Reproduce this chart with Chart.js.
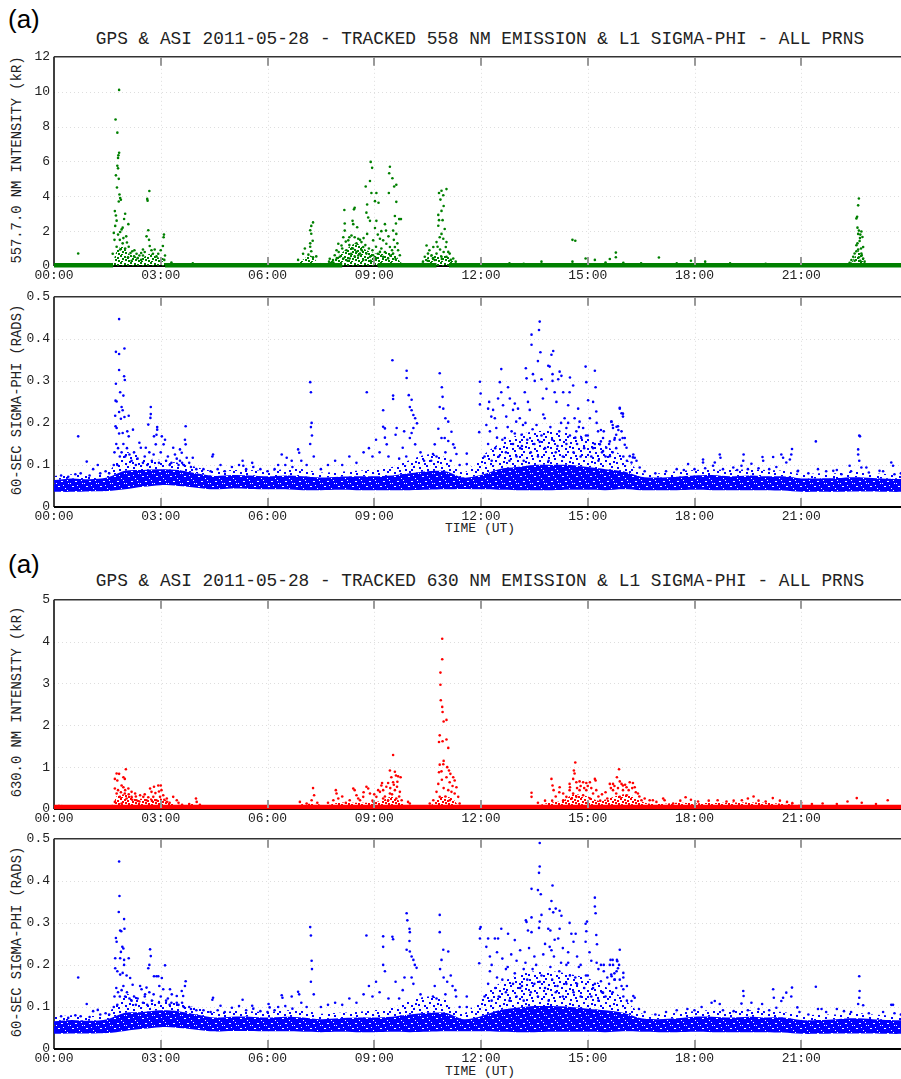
<!DOCTYPE html>
<html><head><meta charset="utf-8">
<script src="https://cdn.jsdelivr.net/npm/chart.js@4"></script>
<style>
html,body{margin:0;padding:0;width:901px;height:1079px;overflow:hidden;background:#fff;}
.box{position:absolute;left:0;width:912px;}
.mono{position:absolute;font-family:"Liberation Mono",monospace;color:#222;white-space:nowrap;}
.ttl{left:54px;width:852px;text-align:center;font-size:17.8px;line-height:20px;}
.ylab{left:18px;font-size:13.8px;line-height:16px;transform:translate(-50%,-50%) rotate(-90deg);}
.xlab{left:54px;width:852px;text-align:center;font-size:13px;line-height:16px;}
.tag{position:absolute;left:8px;font-family:"Liberation Sans",Arial,sans-serif;font-size:26px;line-height:30px;color:#000;}
</style></head><body>
<div class="tag" style="top:4px">(a)</div>
<div class="mono ttl" style="top:29px">GPS &amp; ASI 2011-05-28 - TRACKED 558 NM EMISSION &amp; L1 SIGMA-PHI - ALL PRNS</div>
<div class="mono ylab" style="top:160px">557.7.0 NM INTENSITY (kR)</div>
<div class="mono ylab" style="top:400px">60-SEC SIGMA-PHI (RADS)</div>
<div class="mono xlab" style="top:521px">TIME (UT)</div>
<div class="tag" style="top:549px">(a)</div>
<div class="mono ttl" style="top:571px">GPS &amp; ASI 2011-05-28 - TRACKED 630 NM EMISSION &amp; L1 SIGMA-PHI - ALL PRNS</div>
<div class="mono ylab" style="top:702px">630.0 NM INTENSITY (kR)</div>
<div class="mono ylab" style="top:942px">60-SEC SIGMA-PHI (RADS)</div>
<div class="mono xlab" style="top:1064px">TIME (UT)</div>
<div class="box" style="top:45px;height:245px"><canvas id="c1" width="912" height="245"></canvas></div>
<div class="box" style="top:285px;height:246px"><canvas id="c2" width="912" height="246"></canvas></div>
<div class="box" style="top:588px;height:245px"><canvas id="c3" width="912" height="245"></canvas></div>
<div class="box" style="top:827px;height:246px"><canvas id="c4" width="912" height="246"></canvas></div>
<script>
const hourLabels = ['00:00','03:00','06:00','09:00','12:00','15:00','18:00','21:00'];
const envHours = [0,0.5,1,1.5,2,2.5,3,3.5,4,4.5,5,5.5,6,6.5,7,7.5,8,8.5,9,9.5,10,10.5,11,11.5,12,12.5,13,13.5,14,14.5,15,15.5,16,16.5,17,17.5,18,18.5,19,19.5,20,20.5,21,21.5,22,22.5,23,23.5,24];

// ---------- Panel 1: 557.7 nm intensity (kR)
const green558Base = [[0,0.05],[1.66,0.05],[1.67,null],[3.12,0.05],[8.1,0.05],[8.11,null],[9.1,0.05],[10.75,0.05],[10.76,null],[11.1,0.05],[24,0.05]];
const green558Dense = [[0,0.1],[1.62,0.1],[1.7,0.5],[1.8,1.0],[1.95,1.1],[2.1,0.7],[2.3,0.55],[2.5,0.5],[2.7,0.7],[2.9,0.5],[3.05,0.5],[3.15,0.15],[3.3,0.12],[6.8,0.12],[6.95,0.3],[7.2,0.6],[7.4,0.25],[7.6,0.15],[7.8,0.3],[8.0,0.6],[8.3,1.1],[8.5,1.3],[8.7,1.0],[8.9,0.8],[9.1,0.7],[9.4,0.8],[9.6,0.6],[9.75,0.2],[9.9,0.12],[10.3,0.15],[10.5,0.5],[10.8,0.6],[11.0,0.6],[11.25,0.3],[11.4,0.12],[22.35,0.12],[22.5,0.5],[22.65,0.9],[22.8,0.3],[22.9,0.12],[24,0.12]];
const green558 = [
[0.68,0.72],[1.73,8.4],[1.78,7.65],[1.83,10.1],
[1.83,6.5],[1.81,6.35],[1.80,6.2],[1.78,5.75],[1.80,5.6],[1.74,5.2],[1.82,5.0],[1.77,4.5],[1.84,4.1],[1.88,3.8],[1.82,3.7],[1.86,3.9],
[1.71,3.15],[1.74,2.9],[1.76,2.6],[2.0,3.0],[1.97,2.7],[2.09,2.4],[1.90,2.1],[1.86,1.95],[1.93,2.2],[2.03,1.7],[1.70,1.5],[1.65,0.7],[1.76,1.1],[1.86,0.95],[1.93,1.3],[2.0,1.0],[2.2,0.85],[2.26,0.9],[2.32,0.7],[2.4,0.6],[2.08,0.5],[2.18,0.3],
[1.68,1.9],[1.72,2.3],[1.8,1.8],[1.85,1.5],[1.95,1.6],[2.05,1.35],[2.1,1.1],[2.15,0.75],[2.25,0.55],[2.35,0.45],[2.45,0.35],[2.5,0.6],[2.55,0.8],
[2.68,4.3],[2.62,3.85],[2.63,3.75],[2.65,2.05],[2.6,1.7],[2.67,1.5],[2.69,1.15],[2.74,0.9],[2.78,0.7],[2.45,0.75],[2.5,0.95],[2.83,0.95],[2.88,0.55],[2.93,0.7],[3.0,0.9],[3.09,1.8],[3.08,1.65],[3.06,1.15],[3.12,0.6],[3.1,0.35],[3.3,0.2],[3.9,0.15],
[7.28,2.5],[7.23,2.3],[7.2,2.05],[7.23,1.85],[7.27,1.45],[7.2,1.3],[7.2,1.1],[7.23,0.85],[7.15,0.65],[7.28,0.5],[7.05,1.0],[7.0,0.7],[7.37,0.55],[6.86,0.35],[7.75,0.42],[7.73,0.25],
[8.9,5.97],[8.94,5.63],[9.44,5.69],[9.42,5.32],[9.51,5.03],[9.56,4.56],[9.62,4.66],[8.76,4.56],[8.88,4.88],[8.92,4.19],[9.06,4.19],[9.41,4.19],[9.02,3.72],[9.12,3.63],[8.8,3.53],[9.62,3.68],[8.16,3.21],[8.45,3.34],[8.43,3.25],[8.78,3.06],[8.83,2.78],[8.88,2.59],[9.06,2.59],[9.58,2.87],[9.7,2.69],[9.75,2.69],[9.61,2.44],[8.17,2.44],[8.39,2.59],[8.41,2.4],[8.52,2.22],[9.02,2.18],[9.33,2.03],[9.53,2.03],[9.62,1.84],[8.17,2.03],[8.13,1.65],[8.8,1.84],[8.97,1.47],[9.16,1.56],[9.25,1.47],[9.34,1.28],[9.44,1.09],[9.58,1.09],[9.67,0.9],[9.72,0.62],
[8.36,1.75],[8.45,1.65],[8.55,1.56],[8.27,1.47],[8.64,1.37],[8.69,1.09],[7.99,1.28],[7.94,0.9],[8.08,1.18],[8.22,0.9],[8.5,0.81],[8.6,0.71],[8.78,0.71],[8.88,0.53],[8.03,0.53],[8.13,0.43],[8.31,0.43],[8.69,0.34],[8.97,0.62],[9.16,0.81],[9.25,0.53],[9.39,0.43],[9.53,0.71],[7.89,0.62],[7.84,0.34],
[8.3,1.2],[8.4,1.0],[8.5,1.3],[8.6,1.5],[8.7,1.6],[8.3,1.65],[8.2,1.4],[8.1,1.0],[8.0,0.8],[8.35,0.7],[8.45,0.55],[8.55,0.6],[8.65,0.9],[8.75,1.2],[8.85,1.0],[8.95,0.9],[9.05,1.1],[9.1,0.7],[9.2,1.0],[9.3,0.8],[9.45,0.6],[9.5,0.9],[9.6,0.4],[9.05,0.45],[8.9,0.3],[8.25,0.3],[7.95,0.45],[7.85,0.2],[9.65,1.3],[9.55,1.5],[9.4,1.7],[9.3,2.4],[9.2,2.0],[9.1,1.8],
[11.03,4.41],[10.89,4.32],[10.82,4.19],[10.94,4.06],[10.86,3.81],[10.95,3.44],[10.89,3.16],[10.8,2.93],[10.82,2.63],[10.92,2.63],[10.8,2.31],[10.98,2.12],[10.89,1.84],[10.84,1.65],[10.94,1.56],[11.03,1.37],[10.75,1.37],[11.01,1.09],[11.08,0.81],[10.66,1.09],[10.47,1.18],[10.51,0.71],[10.42,0.53],[10.61,0.62],[10.75,0.71],[10.89,0.53],[11.03,0.53],[11.22,0.43],[11.29,0.25],[10.37,0.25],[10.7,0.34],[11.12,0.71],[10.55,0.9],[10.65,0.45],[10.85,0.95],[10.95,0.8],[11.15,0.35],[10.5,0.3],[10.78,1.1],[10.9,0.4],
[13.7,0.25],[14.57,1.5],[14.65,1.45],[14.57,0.25],[14.94,0.43],[15.2,0.35],[15.79,0.77],[15.79,0.5],[15.62,0.4],[17.0,0.49],[17.9,0.3],[18.3,0.25],
[12.8,0.15],[13.2,0.12],[15.5,0.2],[16.0,0.18],[16.5,0.15],[17.5,0.15],[19.0,0.15],[20.0,0.12],
[22.62,3.87],[22.6,3.48],[22.57,2.82],[22.55,2.73],[22.62,2.03],[22.69,1.98],[22.6,1.84],[22.72,1.66],[22.64,1.43],[22.55,1.19],[22.74,1.09],[22.6,0.94],[22.5,0.72],[22.69,0.72],[22.46,0.53],[22.74,0.43],[22.41,0.34],[22.78,0.25],[22.36,0.19],
[22.65,1.6],[22.58,1.3],[22.68,1.0],[22.55,0.85],[22.7,0.6],[22.62,0.5],[22.5,0.3],[22.66,0.3],[22.58,2.2],[22.66,1.8]
];

// ---------- Panel 2: sigma-phi (558 set)
const sig2Low  = [.036,.036,.037,.038,.042,.048,.052,.050,.046,.042, .044,.043,.042,.042,.040,.040,.041,.040,.040,.040, .040,.041,.042,.043,.042,.041,.040,.040,.040,.041, .041,.040,.042,.040,.040,.040,.041,.040,.040,.040, .040,.039,.036,.036,.036,.037,.037,.036,.036];
const sig2Core = [.064,.068,.066,.070,.086,.088,.090,.088,.080,.074, .076,.075,.073,.075,.073,.070,.072,.073,.073,.075, .080,.085,.085,.070,.076,.090,.095,.100,.100,.100, .095,.090,.085,.072,.070,.072,.075,.076,.073,.075, .073,.073,.068,.068,.069,.071,.069,.067,.066];
const sig2Halo = [.074,.078,.076,.082,.130,.118,.112,.105,.095,.085, .088,.088,.086,.090,.090,.082,.084,.086,.090,.095, .112,.125,.118,.082,.120,.150,.170,.180,.180,.175, .165,.145,.120,.082,.080,.085,.088,.090,.088,.090, .088,.086,.078,.080,.080,.085,.080,.078,.076];
const sig2 = [
[1.83,0.447],[1.74,0.369],[1.83,0.364],[1.98,0.377],[1.83,0.326],[1.97,0.311],[1.99,0.302],[1.74,0.293],[1.86,0.273],[1.95,0.265],[1.73,0.253],[1.76,0.251],[1.9,0.238],[1.93,0.23],[1.83,0.226],[1.72,0.217],[1.88,0.21],[1.98,0.214],[2.1,0.217],[1.73,0.192],[1.76,0.188],[1.83,0.175],[1.93,0.176],[2.06,0.18],[2.1,0.168],[2.22,0.184],[0.68,0.168],[0.92,0.108],[1.23,0.1],
[2.65,0.196],[2.72,0.238],[2.72,0.221],[2.71,0.212],[2.9,0.19],[2.9,0.184],[2.88,0.172],[2.81,0.168],[3.03,0.168],[3.12,0.16],[2.86,0.149],[3.08,0.149],[2.4,0.153],[2.44,0.141],[2.58,0.141],[3.35,0.141],[3.54,0.137],[3.4,0.125],[3.7,0.192],[3.68,0.16],[3.7,0.149],[3.59,0.129],[3.9,0.117],[3.73,0.117],[3.54,0.11],[4.47,0.125],[4.45,0.12],[4.68,0.1],[5.57,0.105],[5.3,0.11],[5.32,0.098],[6.4,0.125],[6.54,0.117],[6.68,0.11],[6.86,0.137],[6.89,0.129],
[1.8,0.14],[1.85,0.12],[1.9,0.13],[1.95,0.15],[2.0,0.12],[2.05,0.14],[2.12,0.125],[2.18,0.11],[2.25,0.13],[2.3,0.1],[2.35,0.115],[2.5,0.105],[2.55,0.12],[2.62,0.1],[2.68,0.13],[2.75,0.11],[2.8,0.125],[2.95,0.105],[3.0,0.13],[3.15,0.11],[3.2,0.12],[3.25,0.1],[3.3,0.105],[3.45,0.115],[3.5,0.1],[3.6,0.105],[3.65,0.1],[3.8,0.105],[3.85,0.095],[4.0,0.09],[1.7,0.13],[1.75,0.15],[1.78,0.1],[1.68,0.1],
[0.2,0.075],[0.4,0.072],[0.6,0.078],[0.75,0.08],[1.0,0.075],[1.1,0.09],[1.3,0.08],[1.45,0.085],[1.55,0.08],
[4.2,0.09],[4.4,0.085],[4.6,0.09],[4.8,0.085],[5.0,0.095],[5.2,0.1],[5.4,0.09],[5.6,0.095],[5.8,0.09],[6.0,0.085],[6.2,0.09],[6.3,0.1],[6.5,0.1],[6.7,0.095],[6.95,0.11],
[7.2,0.297],[7.22,0.273],[7.24,0.2],[7.22,0.19],[7.25,0.17],[7.2,0.15],[7.3,0.12],[7.1,0.1],[7.5,0.09],[7.7,0.1],[7.9,0.11],[8.1,0.1],[8.3,0.12],[8.5,0.105],[8.7,0.13],[8.79,0.273],[8.85,0.14],[8.95,0.12],[9.05,0.16],[9.15,0.13],
[9.51,0.349],[9.53,0.265],[9.53,0.257],[9.25,0.23],[9.25,0.191],[9.3,0.187],[9.3,0.165],[9.35,0.149],[9.63,0.188],[9.6,0.172],[9.91,0.324],[9.91,0.307],[9.97,0.266],[10.05,0.255],[10.0,0.238],[10.05,0.23],[10.1,0.219],[10.15,0.211],[10.2,0.199],[10.1,0.188],[10.05,0.176],[10.0,0.164],[10.15,0.149],[9.84,0.18],[9.8,0.141],[9.4,0.12],[9.7,0.115],[9.9,0.12],[10.3,0.13],[10.4,0.11],
[10.84,0.318],[10.9,0.285],[10.92,0.262],[10.84,0.238],[10.94,0.234],[11.0,0.211],[11.08,0.203],[10.8,0.186],[10.89,0.164],[10.98,0.164],[11.08,0.157],[11.17,0.179],[11.22,0.149],[11.26,0.141],[11.31,0.126],[10.7,0.149],[10.65,0.126],[10.6,0.11],[10.75,0.12],[11.0,0.13],[11.15,0.11],[11.4,0.1],
[11.6,0.127],[11.6,0.102],[11.97,0.298],[11.99,0.27],[11.97,0.244],[11.95,0.178],
[12.15,0.195],[12.2,0.234],[12.23,0.25],[12.29,0.215],[12.34,0.231],[12.39,0.211],[12.43,0.188],[12.48,0.258],[12.53,0.297],[12.57,0.328],[12.57,0.273],[12.62,0.242],[12.67,0.164],[12.71,0.215],[12.76,0.285],[12.81,0.258],[12.86,0.18],[12.9,0.231],[12.95,0.246],[12.99,0.203],[13.04,0.234],[13.09,0.211],[13.14,0.172],[13.18,0.195],[13.23,0.273],[13.26,0.33],[13.28,0.306],[13.32,0.25],[13.37,0.231],[13.42,0.41],[13.42,0.386],[13.46,0.316],[13.51,0.3],[13.56,0.195],[13.6,0.347],[13.63,0.421],[13.65,0.441],[13.67,0.368],[13.7,0.304],[13.74,0.258],[13.79,0.211],[13.84,0.281],[13.89,0.336],[13.93,0.334],[13.98,0.362],[14.03,0.371],[14.01,0.316],[14.01,0.3],[14.07,0.273],[14.12,0.25],[14.17,0.304],[14.21,0.322],[14.26,0.312],[14.31,0.273],[14.35,0.211],[14.4,0.188],[14.45,0.242],[14.49,0.273],[14.5,0.308],[14.59,0.289],[14.63,0.211],[14.68,0.18],[14.73,0.234],[14.77,0.203],[14.82,0.164],[14.87,0.188],[14.94,0.334],[14.96,0.297],[15.01,0.254],[15.06,0.211],[15.15,0.25],[15.2,0.324],[15.22,0.285],[15.24,0.227],[15.29,0.18],[15.34,0.149],[15.43,0.164],[15.52,0.141],[15.62,0.121],[15.66,0.203],[15.71,0.188],[15.8,0.172],[15.85,0.192],[15.9,0.234],[15.95,0.223],[16.04,0.164],[16.09,0.141],[16.18,0.121],[16.27,0.118],[16.37,0.11],[16.46,0.094],
[12.1,0.12],[12.2,0.15],[12.3,0.11],[12.4,0.14],[12.5,0.12],[12.6,0.16],[12.7,0.13],[12.8,0.11],[12.9,0.15],[13.0,0.12],[13.1,0.14],[13.2,0.11],[13.3,0.16],[13.4,0.13],[13.5,0.15],[13.6,0.12],[13.7,0.17],[13.8,0.14],[13.9,0.11],[14.0,0.16],[14.1,0.13],[14.2,0.18],[14.3,0.12],[14.4,0.15],[14.5,0.17],[14.6,0.13],[14.7,0.15],[14.8,0.12],[14.9,0.14],[15.0,0.17],[15.1,0.12],[15.2,0.15],[15.3,0.11],[15.4,0.13],[15.5,0.12],[15.6,0.15],[15.7,0.13],[15.8,0.14],[15.9,0.16],[16.0,0.12],[16.1,0.11],[12.25,0.18],[12.75,0.19],[13.25,0.2],[13.75,0.22],[14.25,0.2],[14.75,0.19],[15.25,0.2],[15.75,0.16],[12.45,0.165],[12.95,0.175],[13.45,0.185],[13.95,0.19],[14.45,0.2],[14.95,0.17],[15.45,0.18],[13.15,0.145],[13.65,0.155],[14.15,0.145],[14.65,0.165],[15.15,0.14],
[15.9,0.236],[15.99,0.222],[15.99,0.215],[15.67,0.203],[15.7,0.195],[15.81,0.191],[15.86,0.183],[15.95,0.18],[15.76,0.164],[15.62,0.156],[15.98,0.164],[16.04,0.148],[16.28,0.125],[16.32,0.117],[16.23,0.106],[15.37,0.183],[15.37,0.156],[15.43,0.133],
[17.82,0.102],[18.24,0.113],[18.24,0.106],[18.57,0.106],[18.71,0.125],[18.73,0.117],[18.52,0.098],[19.09,0.094],[19.38,0.125],[19.37,0.11],[19.32,0.098],[19.6,0.103],[19.91,0.119],[19.93,0.11],[20.21,0.119],[20.44,0.125],[20.49,0.117],[20.58,0.106],[20.74,0.138],[20.72,0.125],[20.68,0.113],[20.91,0.086],[21.41,0.156],[21.47,0.09],[21.9,0.086],[22.13,0.078],[22.36,0.098],[22.63,0.17],[22.65,0.168],[22.6,0.137],[22.6,0.125],[22.63,0.11],[22.69,0.094],[22.83,0.094],[23.2,0.086],[23.53,0.106],[23.58,0.098],[23.62,0.078],
[16.6,0.085],[16.9,0.08],[17.2,0.085],[17.5,0.09],[17.7,0.088],[18.0,0.09],[18.3,0.092],[18.8,0.09],[19.2,0.088],[19.5,0.09],[19.8,0.092],[20.1,0.09],[20.3,0.095],[20.9,0.085],[21.2,0.08],[21.7,0.085],[22.0,0.088],[22.4,0.085],[22.9,0.082],[23.3,0.085],[23.8,0.08]
];

// ---------- Panel 3: 630.0 nm intensity (kR)
const red630Base = [[0,0.05],[24,0.05]];
const red630Dense = [[0,0.1],[1.65,0.1],[1.75,0.3],[2.0,0.35],[2.3,0.25],[2.6,0.25],[3.0,0.25],[3.3,0.15],[3.5,0.1],[3.9,0.12],[4.1,0.08],[6.8,0.08],[7.0,0.12],[7.4,0.12],[7.6,0.08],[8.0,0.15],[8.4,0.15],[8.8,0.15],[9.2,0.2],[9.5,0.3],[9.7,0.2],[9.9,0.08],[10.6,0.1],[10.9,0.3],[11.2,0.25],[11.4,0.08],[13.5,0.08],[13.9,0.15],[14.3,0.2],[14.6,0.35],[15.0,0.3],[15.3,0.2],[15.6,0.25],[16.0,0.35],[16.3,0.3],[16.6,0.15],[17.0,0.12],[17.5,0.15],[18,0.14],[19,0.15],[20,0.15],[21,0.1],[22,0.09],[24,0.09]];
const red630 = [
[2.02,0.95],[1.95,0.76],[1.99,0.72],[1.83,0.84],[1.76,0.85],[1.71,0.72],[1.78,0.68],[1.9,0.56],[1.95,0.52],[2.09,0.49],[2.18,0.41],[2.28,0.37],[2.42,0.33],[2.51,0.29],[2.7,0.49],[2.74,0.41],[2.81,0.53],[2.93,0.56],[3.0,0.56],[3.02,0.45],[3.07,0.33],[3.17,0.25],[3.35,0.29],[3.45,0.21],[3.99,0.25],[4.01,0.17],[1.71,0.49],[1.76,0.37],[1.85,0.29],[1.99,0.37],[2.04,0.25],[2.18,0.29],[2.32,0.21],[2.6,0.21],[2.79,0.29],[2.88,0.21],[2.98,0.29],[3.17,0.17],[1.71,0.17],[1.9,0.13],
[1.8,0.45],[1.88,0.4],[2.0,0.45],[2.1,0.35],[2.2,0.22],[2.3,0.3],[2.4,0.18],[2.55,0.35],[2.65,0.28],[2.75,0.2],[2.85,0.38],[2.95,0.42],[3.1,0.22],[3.25,0.15],[3.5,0.15],[3.6,0.1],[3.8,0.12],[4.1,0.1],
[9.53,1.29],[9.44,0.92],[9.58,0.89],[9.61,0.8],[9.48,0.76],[9.67,0.78],[9.74,0.76],[9.39,0.62],[9.53,0.64],[9.64,0.53],[9.34,0.53],[9.58,0.45],[9.72,0.41],[9.44,0.37],[9.25,0.45],[9.16,0.41],[9.11,0.45],[9.06,0.29],[9.25,0.25],[9.39,0.21],[9.62,0.25],[9.77,0.21],[9.2,0.56],[9.22,0.62],[8.78,0.53],[8.83,0.49],[8.88,0.37],[8.69,0.29],[8.6,0.21],[8.41,0.49],[8.45,0.45],[8.5,0.33],[8.31,0.21],[7.92,0.45],[7.94,0.37],[7.99,0.25],[7.85,0.21],[7.28,0.5],[7.31,0.33],[7.24,0.21],[7.1,0.13],[6.91,0.17],[9.95,0.17],[10.0,0.13],
[9.0,0.35],[9.3,0.3],[9.5,0.35],[9.7,0.3],[8.95,0.2],[8.7,0.4],[8.55,0.25],[8.2,0.15],[8.1,0.3],[7.7,0.15],[7.4,0.15],[9.45,0.5],[9.55,0.58],[9.65,0.65],
[10.91,4.07],[10.91,3.58],[10.86,3.26],[10.86,2.97],[10.87,2.6],[10.91,2.44],[10.92,2.32],[10.95,2.09],[11.03,2.13],[10.84,1.76],[10.82,1.6],[10.92,1.62],[11.03,1.66],[11.08,1.46],[10.95,1.15],[10.94,1.07],[10.84,1.06],[10.82,0.88],[10.89,0.9],[11.1,0.92],[11.14,0.84],[11.03,0.76],[11.22,0.76],[11.26,0.68],[11.12,0.64],[11.08,0.45],[11.17,0.41],[11.26,0.37],[10.8,0.6],[10.75,0.41],[11.31,0.52],[11.36,0.29],[10.84,0.29],[11.12,0.21],[10.66,0.21],[10.56,0.13],[11.4,0.13],[10.95,0.5],[11.0,0.3],[11.2,0.55],[10.9,0.7],[11.05,1.0],
[13.42,0.39],[13.42,0.29],[13.98,0.72],[14.01,0.56],[14.04,0.45],[14.21,0.52],[14.31,0.37],[14.49,0.6],[14.61,0.92],[14.63,0.85],[14.65,1.11],[14.59,0.72],[14.68,0.64],[14.77,0.66],[14.87,0.64],[14.96,0.62],[15.06,0.64],[15.2,0.72],[15.22,0.68],[14.49,0.45],[14.59,0.37],[14.68,0.29],[14.77,0.45],[14.87,0.33],[14.96,0.45],[15.06,0.25],[15.15,0.37],[15.24,0.45],[14.4,0.29],[14.31,0.21],[15.62,0.6],[15.71,0.6],[15.88,0.95],[15.82,0.76],[15.9,0.66],[15.99,0.56],[16.09,0.52],[16.18,0.64],[16.27,0.62],[16.32,0.52],[16.41,0.37],[15.71,0.45],[15.8,0.37],[15.9,0.29],[15.99,0.45],[16.09,0.33],[16.51,0.21],[16.74,0.21],[16.83,0.21],[16.93,0.17],[17.12,0.25],[17.16,0.21],[17.4,0.13],
[14.1,0.3],[14.2,0.4],[14.5,0.52],[14.55,0.25],[14.7,0.5],[14.8,0.55],[14.9,0.5],[15.0,0.55],[15.1,0.5],[15.3,0.3],[15.4,0.35],[15.5,0.4],[15.55,0.25],[15.65,0.5],[15.75,0.55],[15.85,0.5],[15.95,0.6],[16.05,0.58],[16.15,0.45],[16.25,0.5],[16.35,0.4],[16.45,0.3],[16.6,0.25],[14.0,0.2],[13.8,0.2],[13.6,0.15],[15.35,0.2],
[17.75,0.28],[17.6,0.2],[17.9,0.22],[18.1,0.18],[18.4,0.2],[18.65,0.21],[18.9,0.18],[19.1,0.2],[19.33,0.21],[19.5,0.25],[19.66,0.3],[19.8,0.2],[20.0,0.18],[20.2,0.26],[20.4,0.2],[20.6,0.17],[20.75,0.14],[21.0,0.15],[21.3,0.12],[21.6,0.13],[22.0,0.12],[22.3,0.18],[22.56,0.26],[22.7,0.15],[23.43,0.21],[23.1,0.12]
];

// ---------- Panel 4: sigma-phi (630 set)
const sig4Low  = [.036,.037,.037,.038,.043,.048,.052,.050,.046,.042, .043,.043,.042,.042,.041,.040,.041,.040,.040,.041, .040,.041,.042,.042,.042,.041,.040,.040,.041,.041, .041,.040,.042,.041,.040,.040,.041,.040,.040,.040, .040,.039,.036,.036,.037,.037,.037,.036,.036];
const sig4Core = [.066,.069,.067,.071,.086,.088,.092,.090,.082,.075, .077,.077,.075,.077,.075,.071,.073,.075,.075,.077, .082,.086,.086,.071,.078,.092,.098,.102,.102,.100, .096,.092,.086,.073,.071,.073,.077,.077,.075,.077, .075,.075,.069,.069,.071,.073,.071,.069,.068];
const sig4Halo = [.076,.080,.078,.085,.130,.118,.114,.108,.098,.088, .090,.090,.088,.092,.092,.084,.086,.088,.092,.098, .114,.125,.118,.085,.122,.155,.175,.185,.185,.178, .168,.148,.120,.085,.082,.086,.090,.092,.090,.092, .090,.088,.080,.082,.082,.086,.082,.080,.078];
const sig4 = [
[1.83,0.446],[1.84,0.364],[1.82,0.326],[1.97,0.309],[1.98,0.286],[1.86,0.282],[1.89,0.28],[1.74,0.264],[1.76,0.255],[1.92,0.243],[1.95,0.239],[1.88,0.231],[1.72,0.216],[1.86,0.216],[1.97,0.212],[2.1,0.216],[1.72,0.192],[1.78,0.185],[1.97,0.2],[1.86,0.177],[1.93,0.181],[2.04,0.175],[2.14,0.169],[2.21,0.153],[0.68,0.17],[0.92,0.107],[1.23,0.093],
[2.7,0.237],[2.72,0.221],[2.68,0.2],[2.65,0.192],[3.12,0.199],[2.81,0.173],[2.88,0.173],[2.93,0.173],[3.03,0.169],[2.96,0.15],[3.07,0.142],[3.26,0.142],[3.31,0.13],[3.45,0.126],[3.7,0.161],[3.68,0.15],[3.59,0.138],[3.63,0.126],[2.42,0.15],[2.46,0.142],[2.56,0.13],[2.6,0.146],[4.47,0.122],[4.45,0.117],[4.68,0.103],[5.3,0.117],[5.57,0.103],[6.03,0.107],[6.06,0.099],[6.4,0.128],[6.42,0.122],[6.68,0.125],[6.86,0.136],[6.89,0.13],
[1.8,0.135],[1.85,0.125],[1.9,0.14],[1.95,0.15],[2.0,0.125],[2.05,0.135],[2.12,0.12],[2.18,0.115],[2.25,0.125],[2.3,0.105],[2.35,0.12],[2.5,0.11],[2.55,0.125],[2.62,0.105],[2.68,0.135],[2.75,0.115],[2.8,0.13],[2.95,0.11],[3.0,0.125],[3.15,0.115],[3.2,0.12],[3.25,0.105],[3.3,0.11],[3.45,0.11],[3.5,0.105],[3.6,0.11],[3.65,0.1],[3.8,0.1],[3.85,0.095],[4.0,0.092],[1.7,0.125],[1.75,0.145],[1.78,0.105],[1.68,0.1],
[0.2,0.078],[0.4,0.074],[0.6,0.08],[0.75,0.078],[1.0,0.076],[1.1,0.09],[1.3,0.082],[1.45,0.085],[1.55,0.082],
[4.2,0.092],[4.4,0.088],[4.6,0.092],[4.8,0.088],[5.0,0.098],[5.2,0.102],[5.4,0.092],[5.6,0.096],[5.8,0.09],[6.0,0.088],[6.2,0.092],[6.3,0.1],[6.5,0.102],[6.7,0.096],[6.95,0.11],
[7.2,0.29],[7.22,0.27],[7.24,0.21],[7.25,0.19],[7.22,0.16],[7.3,0.13],[7.1,0.1],[7.5,0.1],[7.7,0.105],[7.9,0.11],[8.1,0.105],[8.3,0.12],[8.5,0.11],[8.7,0.13],[8.78,0.27],[8.85,0.15],[8.95,0.125],[9.05,0.16],[9.15,0.135],
[9.25,0.268],[9.25,0.243],[9.25,0.2],[9.3,0.185],[9.51,0.267],[9.53,0.261],[9.91,0.323],[9.93,0.306],[9.99,0.286],[10.0,0.278],[9.99,0.257],[9.91,0.236],[10.0,0.232],[10.05,0.22],[10.1,0.212],[10.14,0.2],[10.19,0.193],[10.05,0.17],[10.1,0.155],[9.85,0.17],[9.8,0.14],[9.6,0.16],[9.4,0.12],[9.7,0.12],[10.3,0.13],
[10.84,0.319],[10.84,0.278],[10.94,0.236],[10.89,0.212],[11.08,0.232],[10.85,0.19],[10.95,0.17],[11.05,0.16],[11.15,0.175],[11.2,0.15],[11.28,0.14],[11.3,0.125],[10.7,0.15],[10.65,0.125],[10.75,0.12],[11.0,0.13],[11.4,0.1],[11.6,0.125],[11.6,0.1],
[11.97,0.286],[11.99,0.29],[11.97,0.263],[11.95,0.204],
[13.65,0.49],[13.65,0.434],[13.63,0.419],[13.42,0.381],[13.6,0.378],[13.68,0.368],[14.01,0.389],[13.98,0.352],[13.93,0.333],[14.03,0.325],[14.1,0.334],[14.21,0.329],[14.26,0.317],[13.26,0.306],[13.28,0.302],[13.42,0.313],[13.32,0.282],[13.42,0.278],[13.7,0.319],[13.65,0.303],[13.63,0.288],[13.89,0.286],[13.95,0.282],[14.21,0.286],[14.17,0.263],[14.07,0.26],[13.93,0.243],[13.98,0.235],[15.2,0.36],[15.2,0.339],[15.22,0.323],[14.94,0.298],[14.98,0.303],[14.49,0.3],[14.54,0.274],[14.66,0.274],[14.6,0.255],[14.96,0.28],[14.94,0.255],[15.24,0.271],[15.26,0.249],[15.9,0.236],[15.82,0.212],[15.88,0.2],[15.64,0.212],[15.62,0.2],[15.66,0.177],[12.57,0.286],[12.39,0.263],[12.48,0.263],[12.76,0.274],[12.95,0.259],[12.2,0.263],[12.15,0.243],[12.25,0.22],
[12.3,0.2],[12.45,0.23],[12.6,0.215],[12.7,0.19],[12.85,0.225],[13.0,0.21],[13.1,0.235],[13.2,0.19],[13.35,0.24],[13.5,0.22],[13.55,0.2],[13.8,0.25],[14.05,0.22],[14.3,0.24],[14.4,0.2],[14.45,0.23],[14.7,0.22],[14.8,0.2],[15.05,0.23],[15.1,0.21],[15.3,0.19],[15.45,0.2],[15.55,0.17],[15.75,0.18],[16.0,0.17],[16.1,0.15],
[12.1,0.125],[12.2,0.155],[12.3,0.115],[12.4,0.145],[12.5,0.125],[12.6,0.165],[12.7,0.135],[12.8,0.115],[12.9,0.155],[13.0,0.125],[13.1,0.145],[13.2,0.115],[13.3,0.165],[13.4,0.135],[13.5,0.155],[13.6,0.125],[13.7,0.175],[13.8,0.145],[13.9,0.115],[14.0,0.165],[14.1,0.135],[14.2,0.185],[14.3,0.125],[14.4,0.155],[14.5,0.175],[14.6,0.135],[14.7,0.155],[14.8,0.125],[14.9,0.145],[15.0,0.175],[15.1,0.125],[15.2,0.155],[15.3,0.115],[15.4,0.135],[15.5,0.125],[15.6,0.155],[15.7,0.135],[15.8,0.145],[15.9,0.165],[16.0,0.125],[16.1,0.115],[12.25,0.185],[12.75,0.195],[13.25,0.205],[13.75,0.225],[14.25,0.205],[14.75,0.195],[15.25,0.205],[15.75,0.165],[12.45,0.17],[12.95,0.18],[13.45,0.19],[13.95,0.195],[14.45,0.205],[14.95,0.175],[15.45,0.185],[13.15,0.15],[13.65,0.16],[14.15,0.15],[14.65,0.17],[15.15,0.145],
[15.7,0.212],[15.83,0.209],[15.71,0.2],[15.85,0.192],[15.81,0.185],[16.0,0.181],[15.67,0.173],[15.76,0.165],[15.95,0.15],[16.0,0.142],[15.37,0.2],[15.37,0.161],[15.43,0.134],[16.28,0.126],[16.32,0.122],[16.23,0.114],[16.44,0.095],
[18.48,0.11],[18.57,0.114],[18.71,0.107],[19.37,0.138],[19.38,0.126],[19.32,0.108],[19.6,0.11],[19.9,0.107],[20.21,0.142],[20.23,0.122],[20.44,0.114],[20.49,0.122],[20.58,0.134],[20.74,0.146],[20.72,0.125],[20.89,0.099],[21.41,0.148],[21.47,0.095],[21.57,0.095],[22.0,0.095],[22.63,0.173],[22.64,0.138],[22.63,0.122],[22.6,0.107],[22.74,0.104],[23.53,0.105],[23.58,0.105],[23.62,0.085],
[16.6,0.088],[16.9,0.082],[17.2,0.088],[17.5,0.092],[17.8,0.095],[18.0,0.092],[18.2,0.1],[18.8,0.092],[19.1,0.09],[19.5,0.092],[19.8,0.095],[20.1,0.092],[20.3,0.098],[20.95,0.088],[21.2,0.082],[21.7,0.088],[22.2,0.09],[22.4,0.088],[22.9,0.085],[23.3,0.088],[23.8,0.082]
];

// ---------- helpers
const pts = arr => arr.map(p => ({x: p[0], y: p[1]}));
const env = (hs, vs) => hs.map((h, i) => ({x: h, y: vs[i]}));
const tickFont = {family: 'Liberation Mono', size: 13};

// texture tiles (style only): dotted fills that look like a dense point cloud
function dotPattern(color, w, h, dots, holes) {
  const c = document.createElement('canvas');
  c.width = w; c.height = h;
  const g = c.getContext('2d');
  g.fillStyle = color;
  if (holes) {
    g.fillRect(0, 0, w, h);
    holes.forEach(([x, y, s]) => g.clearRect(x, y, s, 1));
  } else {
    dots.forEach(([x, y]) => g.fillRect(x, y, 2, 2));
  }
  return g.createPattern(c, 'repeat');
}
const coreTex  = dotPattern('#0000ff', 14, 10, null, [[2,1,2],[9,3,1],[5,6,2],[12,8,1],[0,8,1],[7,0,1],[11,5,1]]);
const haloTex  = dotPattern('#0000ff', 22, 15, [[1,2],[8,0],[15,4],[4,8],[11,10],[19,11],[17,1],[6,13],[13,6],[0,12],[20,7],[9,4],[3,5],[15,13]]);
const greenTex = dotPattern('#008000', 10, 7, [[0,0],[4,1],[7,2],[2,3],[5,4],[8,5],[1,6]]);
const redTex   = dotPattern('#ff0000', 10, 7, [[0,0],[4,1],[7,2],[2,3],[5,4],[8,5],[1,6]]);

const framePlugin = {
  id: 'frame',
  beforeDatasetsDraw(chart) {
    const {ctx, chartArea: a, scales: {x, y}} = chart;
    const line = (x1, y1, x2, y2) => { ctx.beginPath(); ctx.moveTo(x1, y1); ctx.lineTo(x2, y2); ctx.stroke(); };
    ctx.save();
    ctx.strokeStyle = '#dedede'; ctx.lineWidth = 1; ctx.setLineDash([1, 3]);
    y.ticks.forEach(t => { if (t.value > 0 && t.value < y.max) { const py = Math.round(y.getPixelForValue(t.value)) + 0.5; line(a.left, py, a.right, py); } });
    x.ticks.forEach(t => { if (t.value > 0) { const px = Math.round(x.getPixelForValue(t.value)) + 0.5; line(px, a.top, px, a.bottom); } });
    ctx.setLineDash([]);
    ctx.strokeStyle = '#000'; ctx.lineWidth = 2; line(a.left, a.bottom, a.right, a.bottom);
    ctx.lineWidth = 1.5; line(a.left, a.top, a.left, a.bottom);
    ctx.strokeStyle = '#333'; ctx.lineWidth = 1.5; line(a.left, a.top, a.right, a.top);
    ctx.restore();
  },
  afterDatasetsDraw(chart) {
    const {ctx, chartArea: a, scales: {x}} = chart;
    ctx.save();
    ctx.strokeStyle = '#999'; ctx.lineWidth = 2;
    x.ticks.forEach(t => {
      if (t.value > 0) {
        const px = Math.round(x.getPixelForValue(t.value));
        ctx.beginPath(); ctx.moveTo(px, a.bottom - 1); ctx.lineTo(px, a.bottom - 9); ctx.stroke();
        ctx.beginPath(); ctx.moveTo(px, a.top + 1); ctx.lineTo(px, a.top + 9); ctx.stroke();
      }
    });
    ctx.restore();
  }
};

function options(ymax, ystep) {
  return {
    responsive: false, animation: false, events: [],
    layout: {padding: {top: 8, left: 0, right: 2, bottom: 0}},
    plugins: {legend: {display: false}, tooltip: {enabled: false}},
    scales: {
      x: {type: 'linear', min: 0, max: 24,
          grid: {display: false, drawTicks: false}, border: {display: false},
          ticks: {stepSize: 3, autoSkip: false, maxRotation: 0, padding: 2, color: '#222', font: tickFont,
                  callback: v => hourLabels[Math.round(v / 3)]},
          afterBuildTicks: s => { s.ticks = s.ticks.filter(t => t.value < 24); },
          afterFit: s => { s.height = 24; }},
      y: {type: 'linear', min: 0, max: ymax,
          grid: {display: false, drawTicks: false}, border: {display: false},
          ticks: {stepSize: ystep, padding: 4, color: '#222', font: tickFont},
          afterFit: s => { s.width = 54; }}
    }
  };
}

function intensityChart(id, base, dense, points, ymax, ystep, color, tex) {
  new Chart(document.getElementById(id), {
    type: 'line',
    data: {datasets: [
      {data: pts(dense), fill: 'origin', backgroundColor: tex, borderWidth: 0, pointRadius: 0, tension: 0.3, order: 2},
      {data: pts(base), borderColor: color, borderWidth: 4.5, pointRadius: 0, fill: false, spanGaps: false, clip: false, order: 1},
      {data: pts(points), showLine: false, pointRadius: 1.3, pointBorderWidth: 0, pointBackgroundColor: color, order: 0}
    ]},
    options: options(ymax, ystep),
    plugins: [framePlugin]
  });
}

function sigmaChart(id, low, core, halo, points) {
  new Chart(document.getElementById(id), {
    type: 'line',
    data: {datasets: [
      {data: env(envHours, low), borderWidth: 0, pointRadius: 0, fill: false, tension: 0.3, order: 3},
      {data: env(envHours, core), borderWidth: 0, pointRadius: 0, fill: '-1', backgroundColor: coreTex, tension: 0.3, order: 2},
      {data: env(envHours, halo), borderWidth: 0, pointRadius: 0, fill: '-1', backgroundColor: haloTex, tension: 0.3, order: 1},
      {data: pts(points), showLine: false, pointRadius: 1.3, pointBorderWidth: 0, pointBackgroundColor: '#0000ff', order: 0}
    ]},
    options: options(0.5, 0.1),
    plugins: [framePlugin]
  });
}

intensityChart('c1', green558Base, green558Dense, green558, 12, 2, '#008000', greenTex);
sigmaChart('c2', sig2Low, sig2Core, sig2Halo, sig2);
intensityChart('c3', red630Base, red630Dense, red630, 5, 1, '#ff0000', redTex);
sigmaChart('c4', sig4Low, sig4Core, sig4Halo, sig4);
</script>
</body></html>
